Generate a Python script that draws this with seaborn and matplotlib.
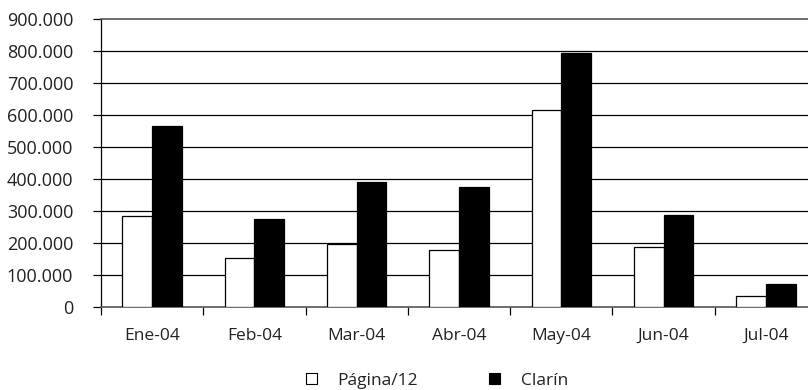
import matplotlib
matplotlib.use("Agg")
import matplotlib.pyplot as plt
from matplotlib.patches import Patch
from matplotlib.ticker import FuncFormatter, FixedLocator
import seaborn as sns
import pandas as pd

# Monthly circulation figures
months = ["Ene-04", "Feb-04", "Mar-04", "Abr-04", "May-04", "Jun-04", "Jul-04"]
pagina12 = [285000, 154000, 198000, 177000, 616000, 188000, 34000]
clarin = [566000, 276000, 391000, 374000, 793000, 287000, 73000]
series_names = ["Página/12", "Clarín"]
y_ticks = [0, 100000, 200000, 300000, 400000, 500000, 600000, 700000, 800000, 900000]

df = pd.DataFrame({
    "mes": months * 2,
    "valor": pagina12 + clarin,
    "diario": [series_names[0]] * len(months) + [series_names[1]] * len(months),
})

sns.set_theme(style="white")
plt.rcParams["font.family"] = ["Open Sans", "DejaVu Sans"]

fig = plt.figure(figsize=(8.08, 3.90), dpi=100)
ax = fig.add_axes([101 / 808, 83 / 390, 716 / 808, 288 / 390])

palette = {series_names[0]: "white", series_names[1]: "black"}
sns.barplot(data=df, x="mes", y="valor", hue="diario", order=months,
            hue_order=series_names, palette=palette, width=0.58,
            edgecolor="black", linewidth=0.9, saturation=1, ax=ax,
            legend=False, zorder=3)

ax.set_xlim(-0.5, len(months) - 0.5)
ax.set_ylim(0, 900000)
ax.set_xlabel("")
ax.set_ylabel("")

# horizontal grid lines
for v in y_ticks[1:-1]:
    ax.axhline(v, color="black", lw=0.9, zorder=1)

ax.yaxis.set_major_locator(FixedLocator(y_ticks))
ax.yaxis.set_major_formatter(FuncFormatter(lambda v, p: f"{v:,.0f}".replace(",", ".")))
ax.tick_params(axis="y", direction="out", length=6, width=0.9, color="black",
               left=True, labelsize=13, labelcolor="#222222", pad=14)

# category separators as tick marks on the x axis
ax.set_xticks(range(len(months)))
ax.set_xticklabels(months)
ax.set_xticks([i - 0.5 for i in range(len(months) + 1)], minor=True)
ax.tick_params(axis="x", which="major", length=0, labelsize=12.5,
               labelcolor="#222222", pad=15)
ax.tick_params(axis="x", which="minor", direction="out", length=6, width=0.9,
               color="black", bottom=True)

ax.spines["right"].set_visible(False)
ax.spines["left"].set_color("black")
ax.spines["left"].set_linewidth(0.9)
ax.spines["bottom"].set_color("#555555")
ax.spines["bottom"].set_linewidth(1.2)
ax.spines["top"].set_color("#555555")
ax.spines["top"].set_linewidth(1.2)

handles = [Patch(facecolor="white", edgecolor="black", linewidth=0.8),
           Patch(facecolor="black", edgecolor="black", linewidth=0.8)]
fig.legend(handles, series_names, loc="center", ncol=2,
           bbox_to_anchor=(437 / 808, 1 - 381 / 390), frameon=False,
           fontsize=12.5, handlelength=0.6, handleheight=0.6,
           handletextpad=1.2, columnspacing=4.1, labelcolor="#222222")

fig.savefig("out.png", dpi=100)
